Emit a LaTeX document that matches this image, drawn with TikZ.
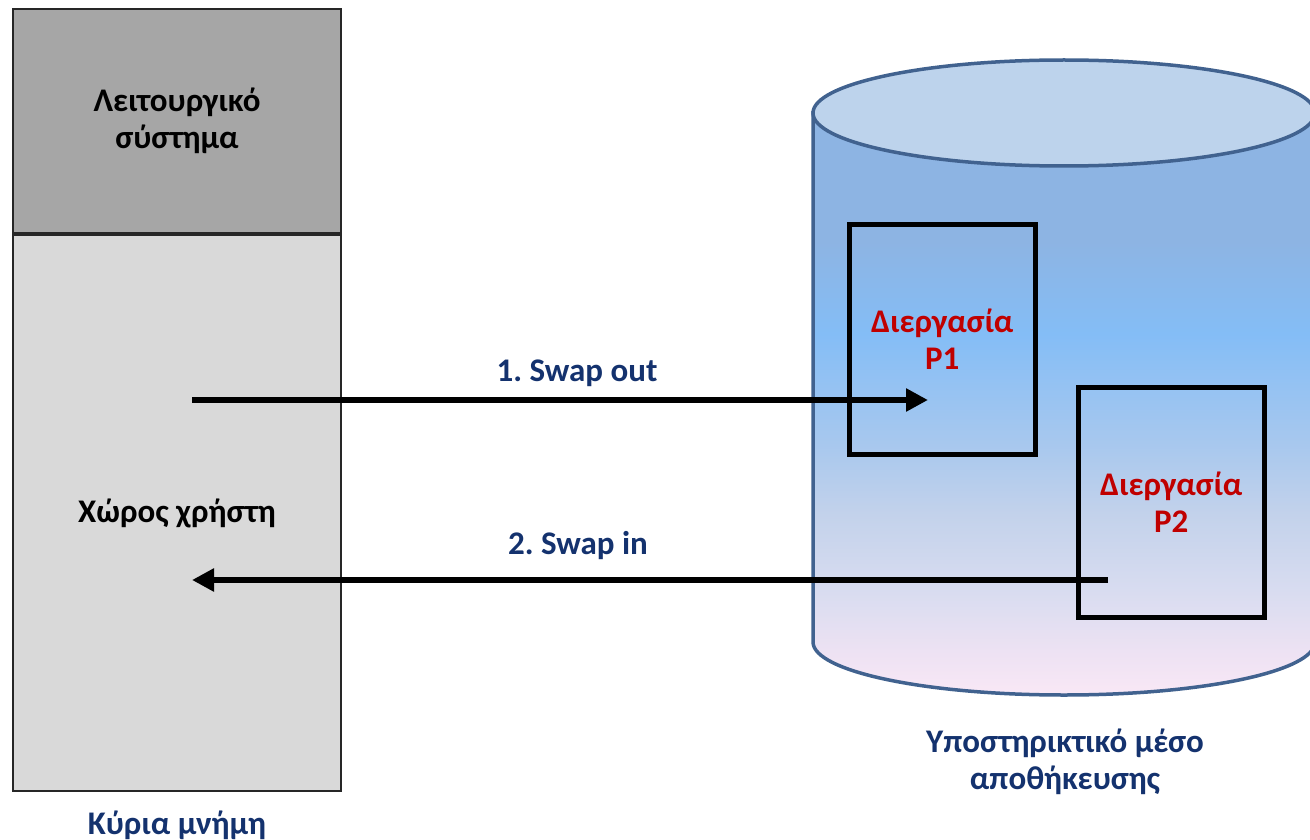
\documentclass[tikz,border=0pt]{standalone}
\usepackage{fontspec}
\setmainfont{Carlito}
\usetikzlibrary{arrows.meta,positioning}
\definecolor{osGri}{HTML}{A6A6A6}
\definecolor{userGri}{HTML}{D9D9D9}
\definecolor{lacivert}{HTML}{14326E}
\definecolor{procKirmizi}{HTML}{C00000}
\definecolor{diskKenar}{HTML}{41628F}
\definecolor{diskUst}{HTML}{BDD3EC}
\definecolor{diskA}{HTML}{F9E8F6}
\definecolor{diskB}{HTML}{EEE2F3}
\definecolor{diskC}{HTML}{D8DCF0}
\definecolor{diskD}{HTML}{C3D2EB}
\definecolor{diskE}{HTML}{A8C8EE}
\definecolor{diskF}{HTML}{84BDF6}
\definecolor{diskG}{HTML}{8DB4E3}
\pgfdeclareverticalshading{diskGovde}{100bp}{color(0bp)=(diskA); color(25bp)=(diskA);
  color(28.5bp)=(diskB); color(34bp)=(diskC); color(40.5bp)=(diskD);
  color(46.5bp)=(diskE); color(56bp)=(diskF); color(64bp)=(diskG);
  color(75bp)=(diskG); color(100bp)=(diskG)}

\begin{document}
\begin{tikzpicture}[x=1pt,y=-1pt,
  font=\fontsize{33}{37}\selectfont\bfseries\frenchspacing,
  memKutu/.style={draw=black!85,line width=2pt,anchor=north west,minimum width=328,align=center},
  procKutu/.style={draw=black,line width=4.5pt,anchor=north west,minimum width=186,minimum height=230,
    align=center,text=procKirmizi},
  swapOk/.style={line width=5.5pt,-{Triangle[length=22pt,width=22pt]}},
  etiket/.style={text=lacivert,align=center}]
\useasboundingbox (0,0) rectangle (1310,840);
% ana bellek
\node[memKutu,fill=osGri,minimum height=224] (os) at (12,8) {Λειτουργικό\\σύστημα};
\node[memKutu,fill=userGri,minimum height=556] (user) at (os.south west) {Χώρος χρήστη};
\node[etiket,below=15pt of user] (memLabel) {Κύρια μνήμη};
% disk
\draw[diskKenar,line width=3.5pt,shade,shading=diskGovde] (813,113) -- (813,642)
  arc[start angle=180,end angle=0,x radius=251,y radius=53] -- (1315,113) -- cycle;
\draw[diskKenar,line width=3.5pt,fill=diskUst] (1064,113) ellipse[x radius=251,y radius=53];
\node[etiket] (diskLabel) at (1065,762) {Υποστηρικτικό μέσο\\αποθήκευσης};
% diergasies
\node[procKutu] (p1) at (847,222) {Διεργασία\\P1};
\node[procKutu] (p2) at (1076,385) {Διεργασία\\P2};
% swap
\coordinate (outStart) at (192,400);
\coordinate (outEnd) at (928,400);
\coordinate (inStart) at (1108,580);
\coordinate (inEnd) at (192,580);
\draw[swapOk] (outStart) -- (outEnd);
\draw[swapOk] (inStart) -- (inEnd);
\node[etiket] (outLabel) at (577,373) {1. Swap out};
\node[etiket] (inLabel) at (578,546) {2. Swap in};
\end{tikzpicture}
\end{document}
